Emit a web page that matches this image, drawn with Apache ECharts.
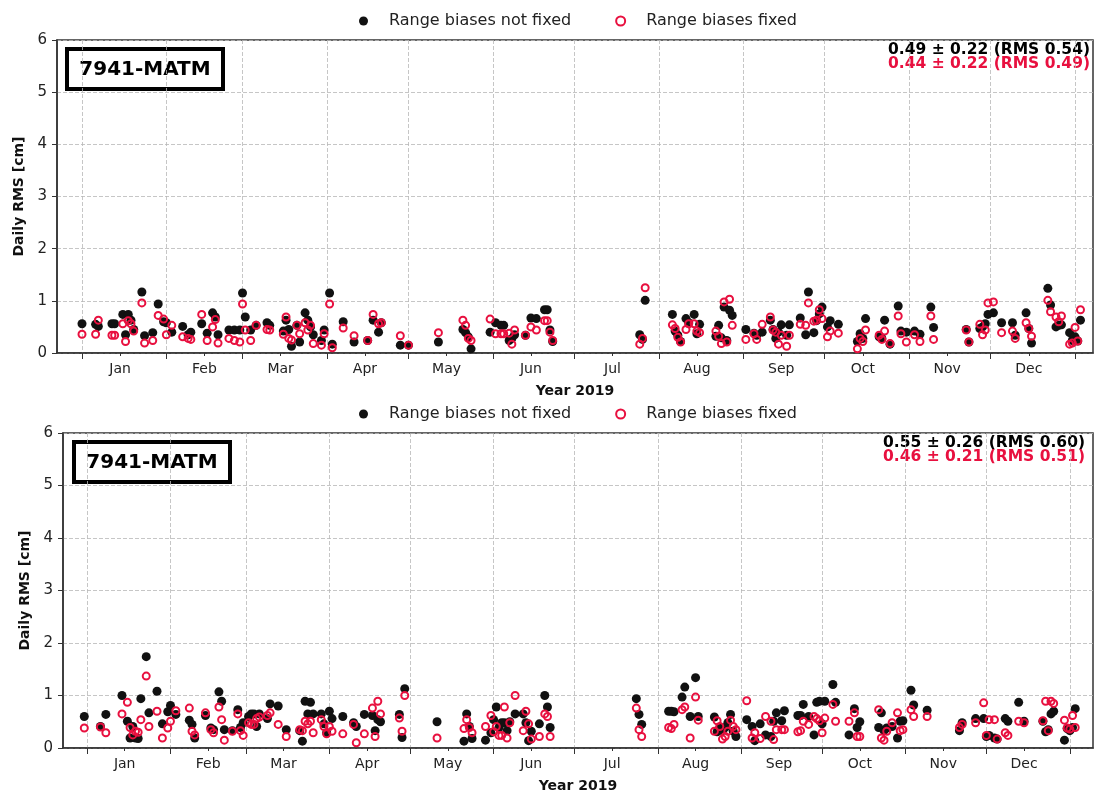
<!DOCTYPE html>
<html>
<head>
<meta charset="utf-8">
<script src="https://cdn.jsdelivr.net/npm/echarts@6/dist/echarts.min.js"></script>
<style>
html, body { margin: 0; padding: 0; background: #fff; }
#main { width: 1099px; height: 794px; }
</style>
</head>
<body>
<div id="main"></div>
<script>
// day of year 2019 (0 = Jan 1)
var monthStarts = [0, 31, 59, 90, 120, 151, 181, 212, 243, 273, 304, 334, 365];
var monthMids = [14, 45, 73, 104, 134, 165, 195, 226, 257, 287, 318, 348];
var monthNames = ['Jan', 'Feb', 'Mar', 'Apr', 'May', 'Jun', 'Jul', 'Aug', 'Sep', 'Oct', 'Nov', 'Dec'];
var yTicks = [0, 1, 2, 3, 4, 5, 6];

var stationName = '7941-MATM';
var topStats = ['0.49 \u00b1 0.22 (RMS 0.54)', '0.44 \u00b1 0.22 (RMS 0.49)'];
var bottomStats = ['0.55 \u00b1 0.26 (RMS 0.60)', '0.46 \u00b1 0.21 (RMS 0.51)'];

//top panel
var topDays = [0, 5, 6, 11, 12, 15, 16, 17, 18, 19, 22, 23, 26, 28, 30, 31, 33, 37, 39, 40,
    44, 46, 48, 49, 50, 54, 56, 58, 59, 60, 62, 64, 68, 69, 74, 75, 76, 77, 79, 80,
    82, 83, 84, 85, 88, 89, 91, 92, 96, 100, 105, 107, 109, 110, 117, 120, 131, 140, 141, 142,
    143, 150, 152, 154, 155, 157, 158, 159, 163, 165, 167, 170, 171, 172, 173, 205, 206, 207, 217, 218,
    219, 220, 222, 223, 225, 226, 227, 233, 234, 235, 236, 237, 238, 239, 244, 247, 248, 250, 253, 254,
    255, 256, 257, 259, 260, 264, 266, 267, 269, 270, 271, 272, 274, 275, 278, 285, 286, 287, 288, 293,
    294, 295, 297, 300, 301, 303, 306, 308, 312, 313, 325, 326, 330, 331, 332, 333, 335, 338, 342, 343,
    347, 348, 349, 355, 356, 358, 359, 360, 363, 364, 365, 366, 367];
var topNotFixed = [0.56, 0.55, 0.51, 0.56, 0.56, 0.74, 0.35, 0.74, 0.63, 0.45, 1.17, 0.33, 0.39, 0.94, 0.60, 0.58, 0.40, 0.51, 0.35, 0.40,
    0.56, 0.38, 0.77, 0.69, 0.35, 0.44, 0.44, 0.44, 1.15, 0.69, 0.44, 0.53, 0.58, 0.53, 0.42, 0.63, 0.45, 0.13, 0.53, 0.21,
    0.77, 0.63, 0.50, 0.35, 0.24, 0.44, 1.15, 0.17, 0.60, 0.21, 0.24, 0.63, 0.40, 0.58, 0.15, 0.15, 0.21, 0.45, 0.39, 0.31,
    0.08, 0.40, 0.58, 0.53, 0.53, 0.24, 0.28, 0.35, 0.34, 0.67, 0.66, 0.83, 0.83, 0.44, 0.22, 0.35, 0.26, 1.01, 0.74, 0.42,
    0.34, 0.22, 0.66, 0.58, 0.74, 0.37, 0.55, 0.32, 0.53, 0.29, 0.88, 0.24, 0.82, 0.72, 0.45, 0.38, 0.34, 0.40, 0.63, 0.45,
    0.28, 0.40, 0.54, 0.34, 0.54, 0.67, 0.35, 1.17, 0.39, 0.62, 0.75, 0.88, 0.50, 0.62, 0.55, 0.22, 0.37, 0.28, 0.66, 0.31,
    0.28, 0.63, 0.17, 0.90, 0.42, 0.40, 0.42, 0.36, 0.88, 0.49, 0.45, 0.21, 0.47, 0.50, 0.56, 0.74, 0.77, 0.58, 0.58, 0.34,
    0.77, 0.47, 0.19, 1.24, 0.92, 0.50, 0.53, 0.54, 0.39, 0.24, 0.31, 0.23, 0.63];
var topFixed = [0.36, 0.36, 0.63, 0.34, 0.34, 0.56, 0.22, 0.62, 0.56, 0.42, 0.96, 0.19, 0.24, 0.72, 0.65, 0.35, 0.53, 0.31, 0.28, 0.26,
    0.74, 0.24, 0.50, 0.64, 0.19, 0.28, 0.24, 0.21, 0.94, 0.44, 0.24, 0.53, 0.45, 0.44, 0.36, 0.69, 0.28, 0.25, 0.53, 0.37,
    0.58, 0.44, 0.53, 0.18, 0.15, 0.37, 0.94, 0.10, 0.48, 0.33, 0.24, 0.74, 0.56, 0.58, 0.33, 0.15, 0.39, 0.63, 0.53, 0.28,
    0.24, 0.65, 0.37, 0.37, 0.37, 0.38, 0.17, 0.44, 0.34, 0.50, 0.44, 0.62, 0.62, 0.40, 0.24, 0.17, 0.28, 1.25, 0.54, 0.47,
    0.30, 0.21, 0.45, 0.56, 0.56, 0.42, 0.39, 0.42, 0.32, 0.18, 0.98, 0.21, 1.03, 0.53, 0.26, 0.37, 0.26, 0.55, 0.69, 0.44,
    0.40, 0.17, 0.34, 0.13, 0.34, 0.55, 0.53, 0.96, 0.61, 0.63, 0.83, 0.66, 0.31, 0.42, 0.38, 0.08, 0.28, 0.22, 0.44, 0.34,
    0.26, 0.42, 0.18, 0.71, 0.37, 0.21, 0.35, 0.22, 0.71, 0.26, 0.44, 0.21, 0.55, 0.35, 0.44, 0.96, 0.98, 0.39, 0.42, 0.28,
    0.58, 0.47, 0.32, 1.01, 0.79, 0.69, 0.60, 0.71, 0.17, 0.19, 0.49, 0.23, 0.83];

//bottom panel
var bottomDays = [-1, 5, 7, 13, 15, 16, 17, 18, 19, 20, 22, 23, 26, 28, 30, 31, 33, 38, 39, 40,
    44, 46, 47, 49, 50, 51, 54, 56, 57, 58, 60, 61, 62, 63, 64, 67, 68, 71, 74, 79,
    80, 81, 82, 83, 84, 87, 88, 89, 90, 91, 95, 99, 100, 103, 106, 107, 108, 109, 116, 117,
    118, 130, 140, 141, 142, 143, 148, 150, 151, 152, 153, 154, 155, 156, 157, 159, 162, 163, 164, 165,
    168, 170, 171, 172, 204, 205, 206, 216, 217, 218, 221, 222, 224, 226, 227, 233, 234, 235, 236, 237,
    238, 239, 240, 241, 245, 247, 248, 250, 252, 254, 255, 256, 258, 259, 264, 265, 266, 268, 270, 271,
    272, 273, 274, 277, 278, 283, 285, 286, 287, 294, 295, 296, 297, 299, 301, 302, 303, 306, 307, 312,
    324, 325, 330, 333, 334, 335, 337, 338, 341, 342, 346, 348, 355, 356, 357, 358, 359, 363, 364, 365,
    366, 367];
var bottomNotFixed = [0.60, 0.41, 0.64, 1.00, 0.51, 0.19, 0.41, 0.19, 0.18, 0.94, 1.74, 0.67, 1.08, 0.46, 0.69, 0.81, 0.64, 0.53, 0.45, 0.19,
    0.62, 0.38, 0.35, 1.07, 0.89, 0.35, 0.33, 0.73, 0.39, 0.48, 0.60, 0.65, 0.65, 0.41, 0.65, 0.56, 0.84, 0.80, 0.35, 0.33,
    0.13, 0.89, 0.65, 0.87, 0.65, 0.65, 0.46, 0.29, 0.70, 0.56, 0.60, 0.48, 0.41, 0.64, 0.62, 0.33, 0.54, 0.50, 0.64, 0.20,
    1.13, 0.50, 0.13, 0.65, 0.41, 0.18, 0.15, 0.29, 0.54, 0.78, 0.39, 0.48, 0.48, 0.33, 0.50, 0.65, 0.65, 0.48, 0.14, 0.32,
    0.46, 1.00, 0.78, 0.39, 0.94, 0.64, 0.45, 0.70, 0.70, 0.69, 0.97, 1.16, 0.60, 1.34, 0.60, 0.59, 0.31, 0.38, 0.33, 0.39,
    0.48, 0.64, 0.32, 0.22, 0.54, 0.41, 0.14, 0.46, 0.25, 0.22, 0.51, 0.67, 0.52, 0.71, 0.62, 0.62, 0.83, 0.60, 0.25, 0.87,
    0.89, 0.46, 0.89, 1.21, 0.87, 0.25, 0.75, 0.39, 0.50, 0.39, 0.67, 0.33, 0.38, 0.41, 0.19, 0.51, 0.52, 1.10, 0.82, 0.72,
    0.33, 0.48, 0.56, 0.56, 0.22, 0.24, 0.19, 0.17, 0.56, 0.51, 0.87, 0.51, 0.51, 0.31, 0.35, 0.65, 0.70, 0.15, 0.37, 0.33,
    0.39, 0.75];
var bottomFixed = [0.38, 0.40, 0.29, 0.65, 0.87, 0.39, 0.25, 0.32, 0.30, 0.54, 1.37, 0.41, 0.70, 0.19, 0.38, 0.51, 0.71, 0.76, 0.32, 0.25,
    0.67, 0.35, 0.29, 0.78, 0.54, 0.15, 0.32, 0.65, 0.33, 0.24, 0.48, 0.45, 0.45, 0.56, 0.59, 0.62, 0.67, 0.45, 0.22, 0.35,
    0.33, 0.51, 0.46, 0.51, 0.29, 0.54, 0.41, 0.27, 0.41, 0.32, 0.27, 0.45, 0.10, 0.27, 0.76, 0.22, 0.89, 0.65, 0.57, 0.32,
    1.00, 0.19, 0.37, 0.54, 0.39, 0.29, 0.41, 0.62, 0.31, 0.41, 0.24, 0.24, 0.78, 0.19, 0.48, 1.00, 0.33, 0.70, 0.46, 0.17,
    0.22, 0.65, 0.60, 0.22, 0.76, 0.35, 0.22, 0.39, 0.37, 0.45, 0.73, 0.78, 0.19, 0.97, 0.53, 0.32, 0.52, 0.41, 0.17, 0.22,
    0.32, 0.53, 0.41, 0.35, 0.90, 0.19, 0.29, 0.18, 0.60, 0.51, 0.16, 0.35, 0.35, 0.35, 0.31, 0.33, 0.51, 0.45, 0.60, 0.56,
    0.52, 0.29, 0.57, 0.83, 0.51, 0.51, 0.67, 0.22, 0.22, 0.73, 0.19, 0.15, 0.32, 0.48, 0.67, 0.33, 0.35, 0.73, 0.60, 0.60,
    0.39, 0.45, 0.48, 0.86, 0.24, 0.54, 0.54, 0.17, 0.29, 0.24, 0.51, 0.48, 0.52, 0.89, 0.33, 0.89, 0.85, 0.53, 0.38, 0.36,
    0.62, 0.39];

var red = '#e8103f';
var font = 'DejaVu Sans';

function pairs(days, vals) {
    var out = [];
    for (var i = 0; i < days.length; i++) {
        out.push([days[i], vals[i]]);
    }
    return out;
}

function monthLabel(v) {
    var i = monthMids.indexOf(v);
    return i >= 0 ? monthNames[i] : '';
}

function mainXAxis(gridIndex, min, max) {
    return {
        type: 'value',
        gridIndex: gridIndex,
        min: min,
        max: max,
        name: 'Year 2019',
        nameLocation: 'middle',
        nameGap: 31,
        nameTextStyle: { fontFamily: font, fontWeight: 'bold', fontSize: 14, color: '#111' },
        axisLine: { show: true, onZero: false, lineStyle: { color: '#333', width: 1.5 } },
        axisTick: { show: true, inside: false, length: 6, customValues: monthStarts, lineStyle: { color: '#333', width: 1 } },
        axisLabel: { show: true, customValues: monthMids, formatter: monthLabel, margin: 9, fontFamily: font, fontSize: 14, color: '#222' },
        splitLine: { show: true, lineStyle: { color: '#b8b8b8', width: 0.8, type: [4, 2] } }
    };
}

function minorXAxis(gridIndex, min, max) {
    return {
        type: 'value',
        gridIndex: gridIndex,
        position: 'bottom',
        min: min,
        max: max,
        axisLine: { show: false, onZero: false },
        axisTick: { show: true, length: 3, customValues: monthMids, lineStyle: { color: '#333', width: 1 } },
        axisLabel: { show: false },
        splitLine: { show: false }
    };
}

function yAxisFor(gridIndex, nameGap) {
    return {
        type: 'value',
        gridIndex: gridIndex,
        min: 0,
        max: 6,
        interval: 1,
        name: 'Daily RMS [cm]',
        nameLocation: 'middle',
        nameGap: nameGap,
        nameTextStyle: { fontFamily: font, fontWeight: 'bold', fontSize: 14, color: '#111' },
        axisLine: { show: true, onZero: false, lineStyle: { color: '#333', width: 1.5 } },
        axisTick: { show: true, inside: false, length: 5, customValues: yTicks, lineStyle: { color: '#333', width: 1 } },
        axisLabel: { margin: 10, fontFamily: font, fontSize: 15, color: '#222' },
        splitLine: { show: true, lineStyle: { color: '#b8b8b8', width: 0.8, type: [4, 2] } }
    };
}

function notFixedSeries(axisIndex, data) {
    return {
        name: 'Range biases not fixed',
        type: 'scatter',
        xAxisIndex: axisIndex,
        yAxisIndex: axisIndex / 2,
        data: data,
        symbol: 'circle',
        symbolSize: 9,
        itemStyle: { color: '#111', opacity: 1 },
        silent: true
    };
}

function fixedSeries(axisIndex, data) {
    return {
        name: 'Range biases fixed',
        type: 'scatter',
        xAxisIndex: axisIndex,
        yAxisIndex: axisIndex / 2,
        data: data,
        symbol: 'circle',
        symbolSize: 7,
        itemStyle: { color: 'rgba(255,255,255,0)', borderColor: red, borderWidth: 2, opacity: 1 },
        silent: true
    };
}

function legendAt(top) {
    return {
        top: top,
        left: 354,
        itemWidth: 9,
        itemHeight: 9,
        itemGap: 44,
        selectedMode: false,
        textStyle: { fontFamily: font, fontSize: 16, color: '#222', padding: [0, 0, 0, 16] },
        data: ['Range biases not fixed', 'Range biases fixed']
    };
}

function stationBox(x, y) {
    return {
        type: 'group',
        left: x,
        top: y,
        children: [{
            type: 'rect',
            shape: { x: 0, y: 0, width: 156, height: 40 },
            style: { fill: '#fff', stroke: '#000', lineWidth: 4 }
        }, {
            type: 'text',
            x: 78,
            y: 21,
            style: { text: stationName, fill: '#000', font: 'bold 20px "DejaVu Sans"', textAlign: 'center', textVerticalAlign: 'middle' }
        }]
    };
}

function statText(text, x, y, color) {
    return {
        type: 'text',
        x: x,
        y: y,
        style: { text: text, fill: color, font: 'bold 15.5px "DejaVu Sans"', textAlign: 'right', textVerticalAlign: 'middle' }
    };
}

var option = {
    backgroundColor: '#fff',
    animation: false,
    legend: [legendAt(8), legendAt(401)],
    grid: [{
        left: 57, top: 40, width: 1036, height: 313,
        show: true, borderColor: '#333', borderWidth: 1.5, backgroundColor: 'transparent'
    }, {
        left: 63, top: 433, width: 1030, height: 315,
        show: true, borderColor: '#333', borderWidth: 1.5, backgroundColor: 'transparent'
    }],
    xAxis: [
        mainXAxis(0, -9.19, 371.6),
        minorXAxis(0, -9.19, 371.6),
        mainXAxis(1, -8.91, 373.6),
        minorXAxis(1, -8.91, 373.6)
    ],
    yAxis: [yAxisFor(0, 30), yAxisFor(1, 31)],
    series: [
        notFixedSeries(0, pairs(topDays, topNotFixed)),
        fixedSeries(0, pairs(topDays, topFixed)),
        notFixedSeries(2, pairs(bottomDays, bottomNotFixed)),
        fixedSeries(2, pairs(bottomDays, bottomFixed))
    ],
    graphic: [
        stationBox(65, 47),
        stationBox(72, 440),
        statText(topStats[0], 1090, 50, '#000'),
        statText(topStats[1], 1090, 64, red),
        statText(bottomStats[0], 1085, 443, '#000'),
        statText(bottomStats[1], 1085, 457, red)
    ]
};

var myChart = echarts.init(document.getElementById('main'));
myChart.setOption(option);
</script>
</body>
</html>
